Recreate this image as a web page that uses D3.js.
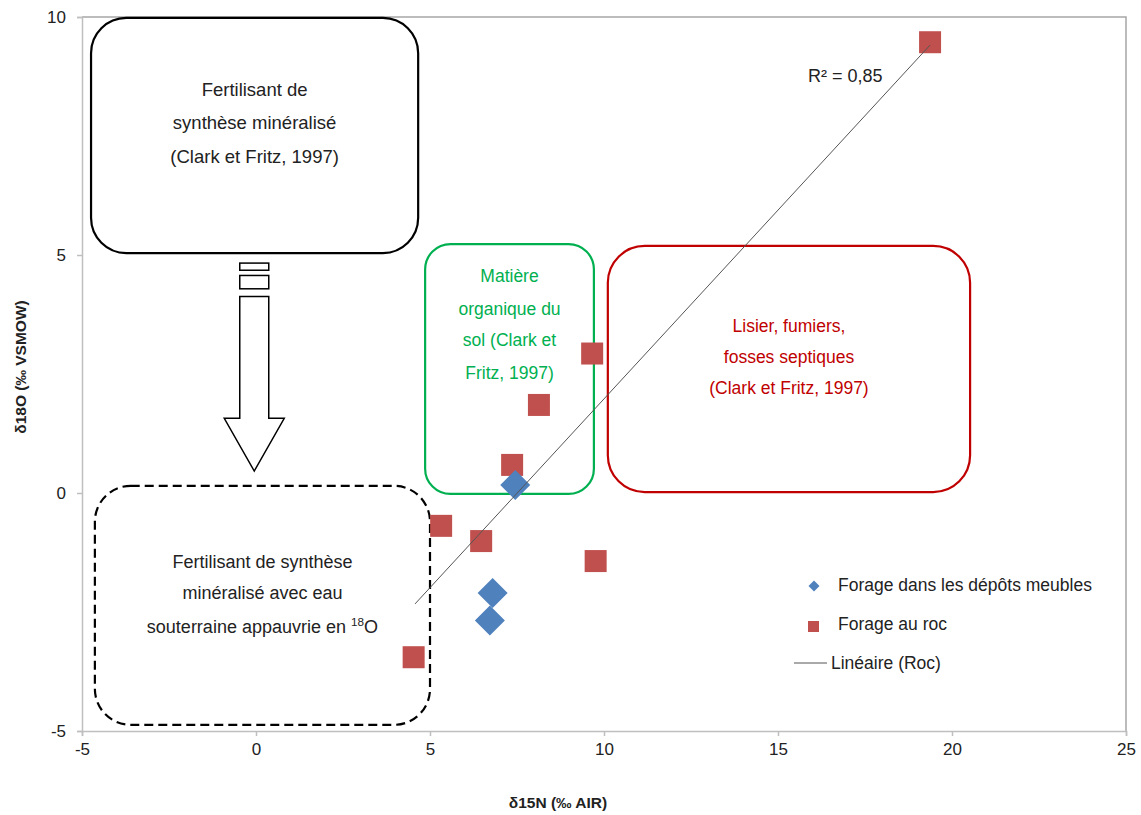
<!DOCTYPE html>
<html><head><meta charset="utf-8">
<script src="https://cdn.jsdelivr.net/npm/d3@7"></script>
<style>
html,body{margin:0;padding:0;background:#fff;}
text{font-family:"Liberation Sans",Arial,sans-serif;}
</style></head>
<body><svg id="chart" width="1141" height="815"></svg>
<script>
// ---- data ----
const xTicks = [-5, 0, 5, 10, 15, 20, 25];
const yTicks = [-5, 0, 5, 10];
const meublesX = [7.45, 6.8, 6.72];
const meublesY = [0.17, -2.1, -2.68];
const rocX = [19.37, 9.66, 8.13, 7.36, 5.32, 6.47, 9.76, 4.53];
const rocY = [9.47, 2.93, 1.85, 0.59, -0.69, -1.01, -1.43, -3.45];
const trendX = [4.57, 19.37];
const trendY = [-2.33, 9.41];
const r2Label = "R² = 0,85";
const legendLabels = ["Forage dans les dépôts meubles", "Forage au roc", "Linéaire (Roc)"];
const xTitle = "δ15N (‰ AIR)";
const yTitle = "δ18O (‰ VSMOW)";

// ---- layout ----
const svg = d3.select("#chart");
const L = 82, R = 1126, T = 17, B = 731;
const x = d3.scaleLinear().domain([-5, 25]).range([L, R]);
const y = d3.scaleLinear().domain([-5, 10]).range([B, T]);

// plot border (top/right)
svg.append("path").attr("d", `M${L},${T}H${R}V${B}`).attr("fill","none").attr("stroke","#a6a6a6").attr("stroke-width",1.5);

// axes
const xAxis = svg.append("g").attr("transform", `translate(0,${B})`)
  .call(d3.axisBottom(x).tickValues(xTicks).tickSize(5).tickPadding(5).tickFormat(d => String(d)));
const yAxis = svg.append("g").attr("transform", `translate(${L},0)`)
  .call(d3.axisLeft(y).tickValues(yTicks).tickSize(5).tickPadding(11).tickFormat(d => String(d)));
[xAxis, yAxis].forEach(g => {
  g.selectAll("path,line").attr("stroke","#bfbfbf").attr("stroke-width",1.5);
  g.selectAll("text").attr("font-size",17).attr("fill","#222").attr("font-family",'"Liberation Sans",Arial,sans-serif');
});
xAxis.selectAll("text").attr("dy","0.85em");

// axis titles
svg.append("text").attr("x",558).attr("y",808).attr("text-anchor","middle")
  .attr("font-size",15.5).attr("font-weight","bold").attr("fill","#222").text(xTitle);
svg.append("text").attr("transform","translate(26,367) rotate(-90)").attr("text-anchor","middle")
  .attr("font-size",15.5).attr("font-weight","bold").attr("fill","#222").text(yTitle);

// ---- annotation boxes (data units) ----
const boxes = [
  {x0:-4.74, x1:4.66, y0:5.04, y1:9.98, stroke:"#000", dash:null, color:"#222", fs:18.5,
   lines:[["Fertilisant de"],["synthèse minéralisé"],["(Clark et Fritz, 1997)"]], ly:[90,123,157]},
  {x0:4.86, x1:9.71, y0:-0.02, y1:5.23, stroke:"#00b050", dash:null, color:"#00b050", fs:17.5,
   lines:[["Matière"],["organique du"],["sol (Clark et"],["Fritz, 1997)"]], ly:[276,309,340,373]},
  {x0:10.11, x1:20.52, y0:0.02, y1:5.19, stroke:"#c00000", dash:null, color:"#c00000", fs:17.5,
   lines:[["Lisier, fumiers,"],["fosses septiques"],["(Clark et Fritz, 1997)"]], ly:[326,357,388]},
  {x0:-4.63, x1:5.0, y0:-4.87, y1:0.15, stroke:"#000", dash:"9,5", color:"#222", fs:18,
   lines:[["Fertilisant de synthèse"],["minéralisé avec eau"],["souterraine appauvrie en ","18","O"]], ly:[562,593,627]}
];
boxes.forEach(b => {
  const px0 = x(b.x0), px1 = x(b.x1), py0 = y(b.y1), py1 = y(b.y0);
  const w = px1-px0, h = py1-py0, r = 0.15*Math.min(w,h);
  svg.append("rect").attr("x",px0).attr("y",py0).attr("width",w).attr("height",h)
    .attr("rx",r).attr("ry",r).attr("fill","none").attr("stroke",b.stroke)
    .attr("stroke-width",2.2).attr("stroke-dasharray",b.dash);
  const cx = (px0+px1)/2;
  b.lines.forEach((ln,i) => {
    const t = svg.append("text").attr("x",cx).attr("y",b.ly[i]+b.fs*0.35)
      .attr("text-anchor","middle").attr("font-size",b.fs).attr("fill",b.color);
    if (ln.length === 1) t.text(ln[0]);
    else {
      t.append("tspan").text(ln[0]);
      t.append("tspan").attr("font-size",b.fs*0.65).attr("dy",-7).text(ln[1]);
      t.append("tspan").attr("dy",7).text(ln[2]);
    }
  });
});

// ---- arrow ----
(function(){
  const cx = x(-0.05), hw = 14.5, hh = 30;
  const yTop = y(4.83), yS1 = y(4.68), yS2 = y(4.57), yS3 = y(4.29), yShaft = y(4.13), yHead = y(1.57), yTip = y(0.46);
  const g = svg.append("g").attr("fill","#fff").attr("stroke","#000").attr("stroke-width",1.5);
  g.append("rect").attr("x",cx-hw).attr("y",yTop).attr("width",2*hw).attr("height",yS1-yTop);
  g.append("rect").attr("x",cx-hw).attr("y",yS2).attr("width",2*hw).attr("height",yS3-yS2);
  g.append("path").attr("d",`M${cx-hw},${yShaft}H${cx+hw}V${yHead}H${cx+hh}L${cx},${yTip}L${cx-hh},${yHead}H${cx-hw}Z`);
})();

// ---- markers ----
const sqSide = 22, diaSize = 450;
svg.append("g").selectAll("rect").data(rocX).join("rect")
  .attr("x",(d,i)=>x(d)-sqSide/2).attr("y",(d,i)=>y(rocY[i])-sqSide/2)
  .attr("width",sqSide).attr("height",sqSide).attr("fill","#c0504d");
svg.append("g").selectAll("path").data(meublesX).join("path")
  .attr("d", d3.symbol(d3.symbolSquare, diaSize)())
  .attr("transform",(d,i)=>`translate(${x(d)},${y(meublesY[i])}) rotate(45)`)
  .attr("fill","#4f81bd");

// trend line
svg.append("line").attr("x1",x(trendX[0])).attr("y1",y(trendY[0]))
  .attr("x2",x(trendX[1])).attr("y2",y(trendY[1])).attr("stroke","#555").attr("stroke-width",1);
svg.append("text").attr("x",808).attr("y",76+6.3).attr("font-size",18).attr("fill","#222").text(r2Label);

// ---- legend ----
const lg = svg.append("g");
lg.append("path").attr("d", d3.symbol(d3.symbolSquare, 60)()).attr("transform","translate(814,586) rotate(45)").attr("fill","#4f81bd");
lg.append("rect").attr("x",808).attr("y",621).attr("width",11).attr("height",11).attr("fill","#c0504d");
lg.append("line").attr("x1",794).attr("x2",827).attr("y1",663).attr("y2",663).attr("stroke","#555").attr("stroke-width",1);
[[838,585],[838,624],[831,663]].forEach((p,i)=>{
  lg.append("text").attr("x",p[0]).attr("y",p[1]+6.1).attr("font-size",17.5).attr("fill","#222").text(legendLabels[i]);
});
</script></body></html>
